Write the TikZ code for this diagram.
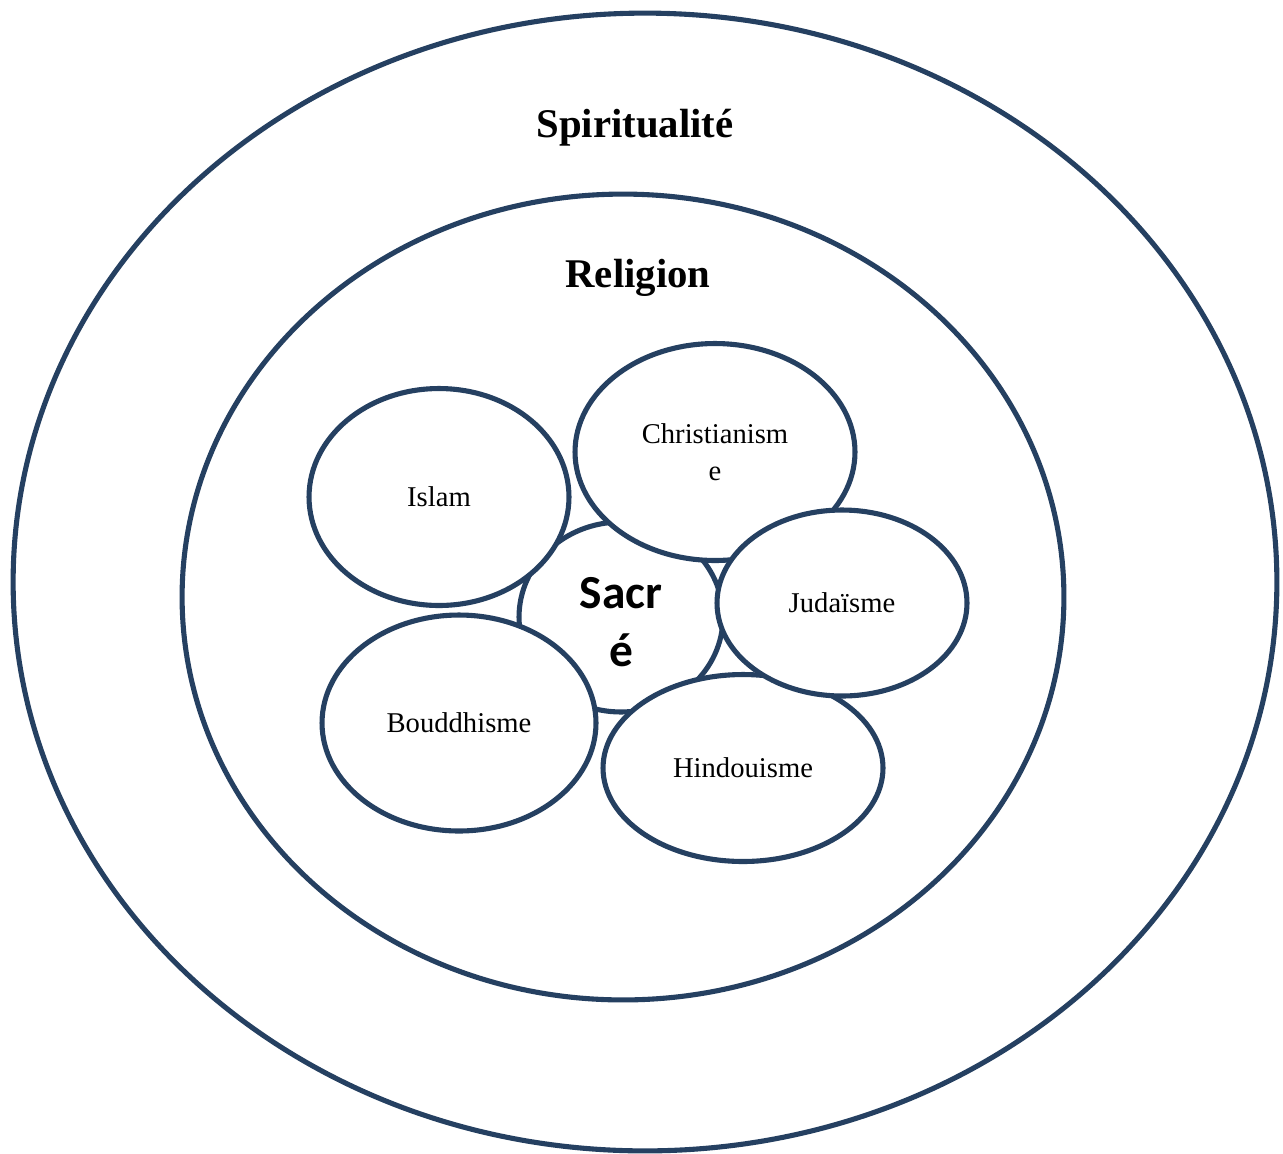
\documentclass[tikz,border=0pt]{standalone}
\usepackage{fontspec}
\setmainfont{Liberation Serif}
\newfontfamily\sacrefont{Carlito}
\usetikzlibrary{shapes.geometric}
\definecolor{ringblue}{RGB}{37,64,97}
\tikzstyle{ring}=[ellipse, draw=ringblue, line width=2.9pt, fill=white, inner sep=0pt]
\tikzstyle{faith}=[ring, align=center, font=\fontsize{16.3}{21}\selectfont]
\tikzstyle{title}=[anchor=base, font=\fontsize{23.2}{26}\selectfont\bfseries]

\begin{document}
\begin{tikzpicture}[x=0.02cm, y=-0.02cm]
    \useasboundingbox (0,0) rectangle (1283,1153);
    \node[ring, minimum width=25.28cm, minimum height=22.76cm] (spirit) at (645,582) {};
    \node[ring, minimum width=17.64cm, minimum height=16.12cm] (relig)  at (623,597) {};
    \node[title] (spiritlbl) at (635,137) {Spiritualité};
    \node[title] (religlbl)  at (638,287) {Religion};
    \node[ring, align=center, minimum width=4.08cm, minimum height=3.8cm,
          font=\sacrefont\fontsize{27}{33.5}\selectfont\bfseries] (sacre) at (621,617) {\\[-0.35cm]Sacr\\é};
    \node[faith, minimum width=5.2cm,  minimum height=4.34cm] (islam)  at (439,497) {Islam};
    \node[faith, minimum width=5.48cm, minimum height=4.32cm] (bouddh) at (459,723) {Bouddhisme};
    \node[faith, minimum width=5.6cm,  minimum height=3.74cm] (hindou) at (743,768) {Hindouisme};
    \node[faith, minimum width=5.6cm,  minimum height=4.34cm] (christ) at (715,452) {Christianism\\e};
    \node[faith, minimum width=5.0cm,  minimum height=3.72cm] (judai)  at (842,603) {Judaïsme};
\end{tikzpicture}
\end{document}
